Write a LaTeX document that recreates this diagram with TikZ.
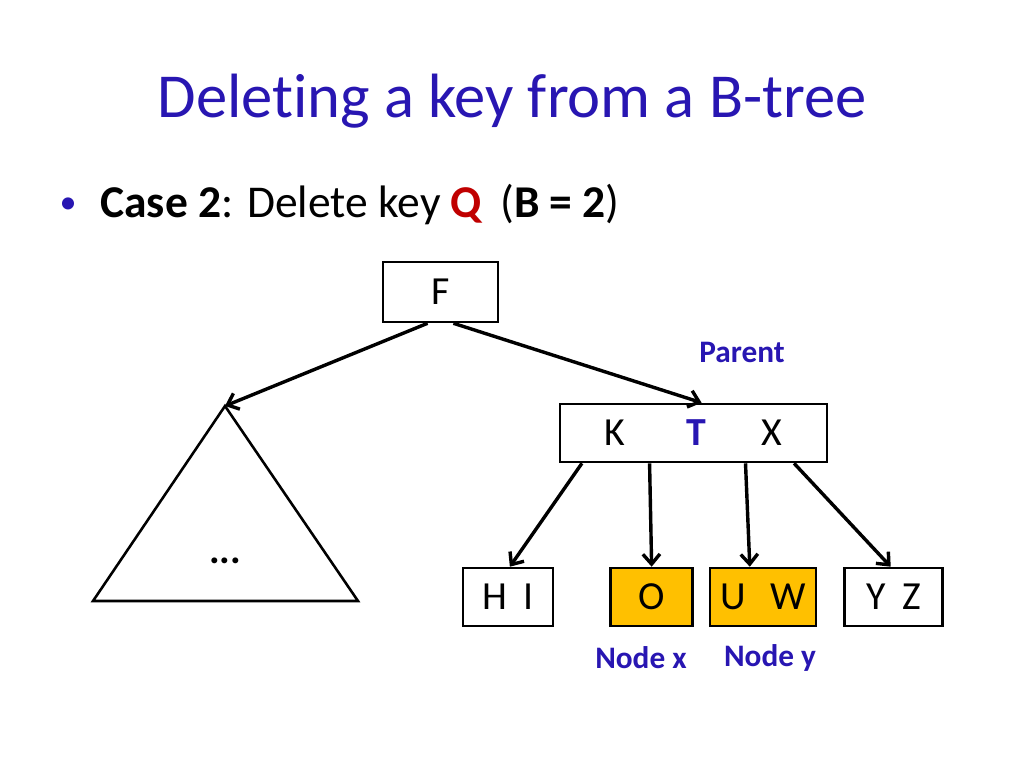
\documentclass[tikz,border=0pt]{standalone}
\usepackage{fontspec}
\setmainfont{Carlito}[Ligatures=NoCommon]
\usetikzlibrary{calc,positioning,arrows.meta}
\definecolor{titleblue}{RGB}{40,22,178}
\definecolor{keyred}{RGB}{192,0,0}
\definecolor{gold}{RGB}{255,192,0}

\begin{document}
\begin{tikzpicture}[x=0.703125pt, y=-0.703125pt,
    keybox/.style={draw, line width=1.8pt, minimum height=40.8pt,
        inner sep=0pt, font=\fontsize{28}{30}\selectfont},
    link/.style={-{Straight Barb[length=7pt,width=12pt,line width=2.4pt]},
        line width=2.4pt},
    tag/.style={text=titleblue, font=\fontsize{22}{24}\selectfont\bfseries}
]
    \useasboundingbox (0,0) rectangle (1024,768);
    % Title
    \node [text=titleblue, font=\fontsize{44}{48}\selectfont,
        anchor=base
    ] (Title) at (512,118) {Deleting a key from a B-tree};
    \node [text=titleblue, font=\fontsize{24}{26}\selectfont,
        anchor=base
    ] (Bullet) at (68,214) {•};
    \node [font=\fontsize{32}{36}\selectfont,
        anchor=base west, inner sep=0pt
    ] (Case) at (100,218) {\textbf{Case 2}: Delete key \textcolor{keyred}{\textbf{Q}}\hspace{12pt}(\textbf{B = 2})};
    % Root
    \node [keybox,
        minimum width=80.9pt,
        minimum height=42.2pt
    ] (Root) at (440.5,292) {F};
    % Left subtree
    \coordinate (Apex) at (225,406);
    \draw [line width=1.8pt, line join=miter] (Apex) -- (93,601) -- (358,601) -- cycle;
    \node [font=\fontsize{28}{30}\selectfont\bfseries] (Dots) at (225,561) {...};
    % Parent
    \node [keybox,
        minimum width=187.7pt
    ] (Parent) at (693.5,433) {K\hspace{43pt}\textcolor{titleblue}{\textbf{T}}\hspace{39pt}X};
    \node [tag] (ParentTag) at (742,352) {Parent};
    % Children
    \node [keybox,
        minimum width=63.3pt
    ] (ChildHI) at (508,597) {H\hspace{12pt}I};
    \node [keybox, fill=gold,
        minimum width=57.7pt,
        right=38.7pt of ChildHI
    ] (NodeX) {O};
    \node [keybox, fill=gold,
        minimum width=74.5pt,
        right=10.5pt of NodeX
    ] (NodeY) {U\hspace{17pt}W};
    \node [keybox,
        minimum width=68.9pt,
        right=18.3pt of NodeY
    ] (ChildYZ) {Y\hspace{12pt}Z};
    \node [tag] (NodeXTag) at (641,658) {Node x};
    \node [tag] (NodeYTag) at (770,658) {Node y};
    % Arrows
    \draw [link] ($(Root.south west)!0.39!(Root.south east)$) -- (Apex);
    \draw [link] ($(Root.south west)!0.61!(Root.south east)$) -- ($(Parent.north west)!0.53!(Parent.north east)$);
    \draw [link] ($(Parent.south west)!0.086!(Parent.south east)$) -- ($(ChildHI.north west)!0.52!(ChildHI.north east)$);
    \draw [link] ($(Parent.south west)!0.337!(Parent.south east)$) -- (NodeX.north);
    \draw [link] ($(Parent.south west)!0.693!(Parent.south east)$) -- ($(NodeY.north west)!0.377!(NodeY.north east)$);
    \draw [link] ($(Parent.south west)!0.873!(Parent.south east)$) -- ($(ChildYZ.north west)!0.47!(ChildYZ.north east)$);
\end{tikzpicture}
\end{document}
